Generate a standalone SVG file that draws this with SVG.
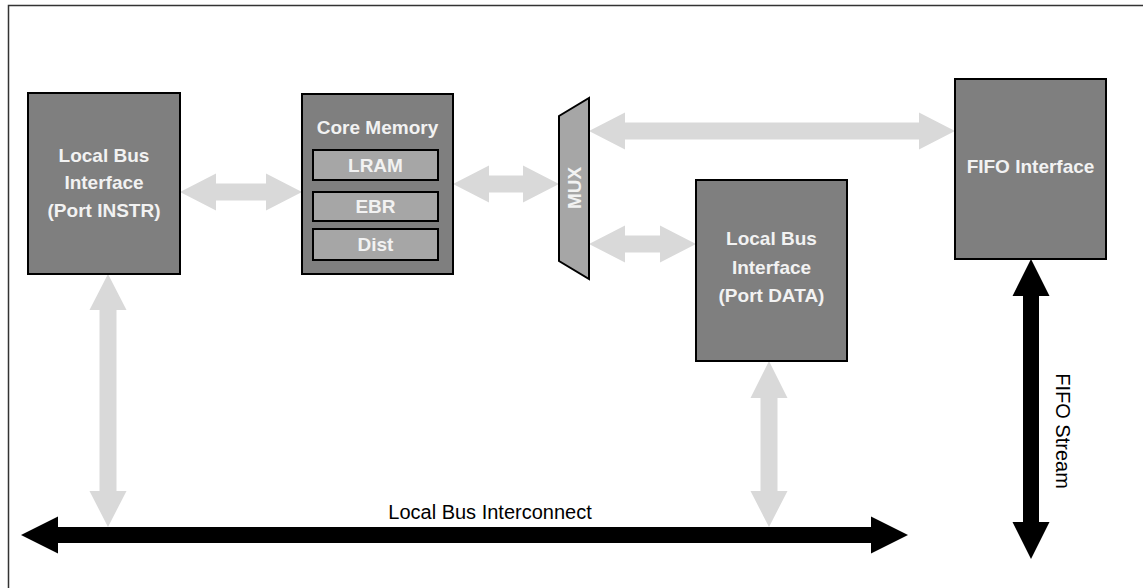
<svg xmlns="http://www.w3.org/2000/svg" width="1143" height="588" viewBox="0 0 1143 588">
<style>
.blk{fill:#7f7f7f;stroke:#000;stroke-width:2}
.sub{fill:#a6a6a6;stroke:#000;stroke-width:2}
.t{font-family:"Liberation Sans",Arial,sans-serif;font-weight:bold;font-size:19px;fill:#f2f2f2;text-anchor:middle}
.n{font-family:"Liberation Sans",Arial,sans-serif;font-size:20px;fill:#000;text-anchor:middle}
.ga{fill:#d9d9d9}
.ba{fill:#000}
</style>
<rect width="1143" height="588" fill="#fff"/>
<path d="M8.5,588 V5.5 H1143" fill="none" stroke="#333" stroke-width="1.5"/>
<g id="connectors">
<polygon class="ga" points="180,192 216,173.5 216,183.5 266,183.5 266,173.5 302,192 266,210.5 266,200.5 216,200.5 216,210.5"/>
<polygon class="ga" points="453,184 489,165.5 489,175.5 523,175.5 523,165.5 559,184 523,202.5 523,192.5 489,192.5 489,202.5"/>
<polygon class="ga" points="589,131 625,112.5 625,122.5 919,122.5 919,112.5 955,131 919,149.5 919,139.5 625,139.5 625,149.5"/>
<polygon class="ga" points="589,244 625,225.5 625,235.5 660,235.5 660,225.5 696,244 660,262.5 660,252.5 625,252.5 625,262.5"/>
<polygon class="ga" points="108,274 126.5,310 116.5,310 116.5,491 126.5,491 108,527 89.5,491 99.5,491 99.5,310 89.5,310"/>
<polygon class="ga" points="769,361 787.5,398 777.5,398 777.5,491 787.5,491 769,527 750.5,491 760.5,491 760.5,398 750.5,398"/>
<polygon class="ba" points="21,535 58,516.5 58,527 871,527 871,516.5 908,535 871,553.5 871,543 58,543 58,553.5"/>
<polygon class="ba" points="1031,259 1049.5,296 1039,296 1039,522 1049.5,522 1031,559 1012.5,522 1023,522 1023,296 1012.5,296"/>
<text class="n" x="490" y="519">Local Bus Interconnect</text>
<text class="n" transform="translate(1056,431) rotate(90)">FIFO Stream</text>
</g>
<g id="instr">
<rect class="blk" x="28" y="93" width="152" height="181"/>
<text class="t" x="104" y="162">Local Bus</text>
<text class="t" x="104" y="189">Interface</text>
<text class="t" x="104" y="217">(Port INSTR)</text>
</g>
<g id="core">
<rect class="blk" x="302" y="94" width="151" height="180"/>
<text class="t" x="377.5" y="134">Core Memory</text>
<rect class="sub" x="313" y="150" width="125" height="30"/>
<text class="t" x="375.5" y="172">LRAM</text>
<rect class="sub" x="313" y="192" width="125" height="29"/>
<text class="t" x="375.5" y="213">EBR</text>
<rect class="sub" x="313" y="229" width="125" height="31"/>
<text class="t" x="375.5" y="251">Dist</text>
</g>
<g id="mux">
<polygon class="sub" points="559,116 589,98 589,279 559,261"/>
<text class="t" transform="translate(581,188) rotate(-90)">MUX</text>
</g>
<g id="data">
<rect class="blk" x="696" y="180" width="151" height="181"/>
<text class="t" x="771.5" y="245">Local Bus</text>
<text class="t" x="771.5" y="274">Interface</text>
<text class="t" x="771.5" y="302">(Port DATA)</text>
</g>
<g id="fifo">
<rect class="blk" x="955" y="79" width="151" height="180"/>
<text class="t" x="1030.5" y="173">FIFO Interface</text>
</g>
</svg>
